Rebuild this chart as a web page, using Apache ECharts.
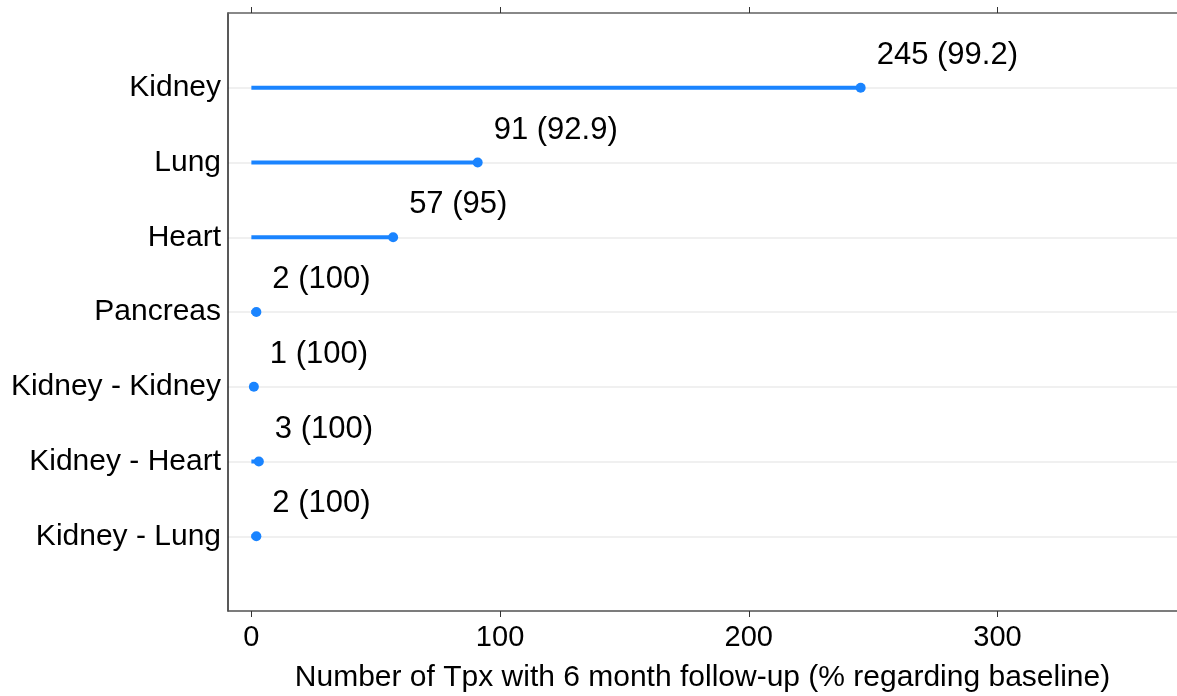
<!DOCTYPE html>
<html>
<head>
<meta charset="utf-8">
<script src="https://cdn.jsdelivr.net/npm/echarts@6/dist/echarts.min.js"></script>
<style>
  html, body { margin: 0; padding: 0; background: #fff; }
  #chart { width: 1177px; height: 696px; }
</style>
</head>
<body>
<div id="chart"></div>
<script>
// bottom to top, as the y axis draws them
const categories = ['Kidney - Lung', 'Kidney - Heart', 'Kidney - Kidney', 'Pancreas', 'Heart', 'Lung', 'Kidney'];
const counts = [2, 3, 1, 2, 57, 91, 245];
const percents = ['100', '100', '100', '100', '95', '92.9', '99.2'];
const xTicks = [0, 100, 200, 300];

const chart = echarts.init(document.getElementById('chart'));

const font = 'Liberation Sans, Arial, sans-serif';
const blue = '#1a84ff';

// blank slot at each end gives the ggplot-like padding
const yCats = [''].concat(categories, ['']);
const pad = v => [''].concat(v, ['']);

const option = {
  animation: false,
  grid: { left: 228, right: 0, top: 13, bottom: 85, outerBoundsMode: 'none' },
  xAxis: [{
    type: 'value',
    min: -9.4,
    max: 372.2,
    position: 'bottom',
    axisLine: { show: true, lineStyle: { color: '#555', width: 1.5 } },
    axisTick: { show: true, length: 6, customValues: xTicks, lineStyle: { color: '#333' } },
    axisLabel: { customValues: xTicks, color: '#000', fontSize: 29, fontFamily: font, margin: 12 },
    splitLine: { show: false },
    name: 'Number of Tpx with 6 month follow-up (% regarding baseline)',
    nameLocation: 'middle',
    nameGap: 52,
    nameTextStyle: { color: '#000', fontSize: 30, fontFamily: font }
  }, {
    type: 'value',
    min: -9.4,
    max: 372.2,
    position: 'top',
    axisLine: { show: true, lineStyle: { color: '#666', width: 1.5 } },
    axisTick: { show: true, length: 6, customValues: xTicks, lineStyle: { color: '#333' } },
    axisLabel: { show: false },
    splitLine: { show: false }
  }],
  yAxis: {
    type: 'category',
    data: yCats,
    boundaryGap: false,
    axisLine: { show: true, onZero: false, lineStyle: { color: '#222', width: 1.5 } },
    axisTick: { show: false },
    axisLabel: { color: '#000', fontSize: 30, fontFamily: font, margin: 7 },
    splitLine: { show: true, lineStyle: { color: '#ebebeb', width: 1.5 } }
  },
  series: [{
    type: 'bar',
    data: pad(counts).map(v => v === '' ? '-' : v),
    barWidth: 4,
    itemStyle: { color: blue },
    silent: true
  }, {
    type: 'scatter',
    data: pad(counts).map((v, i) => v === '' ? ['-', yCats[i]] : [v, yCats[i]]),
    symbolSize: 10,
    itemStyle: { color: blue, opacity: 1 },
    label: {
      show: true,
      position: [21, -27.5],
      align: 'left',
      verticalAlign: 'middle',
      color: '#000',
      fontSize: 31,
      fontFamily: font,
      formatter: p => p.value[0] + ' (' + percents[p.dataIndex - 1] + ')'
    }
  }]
};

chart.setOption(option);
</script>
</body>
</html>
